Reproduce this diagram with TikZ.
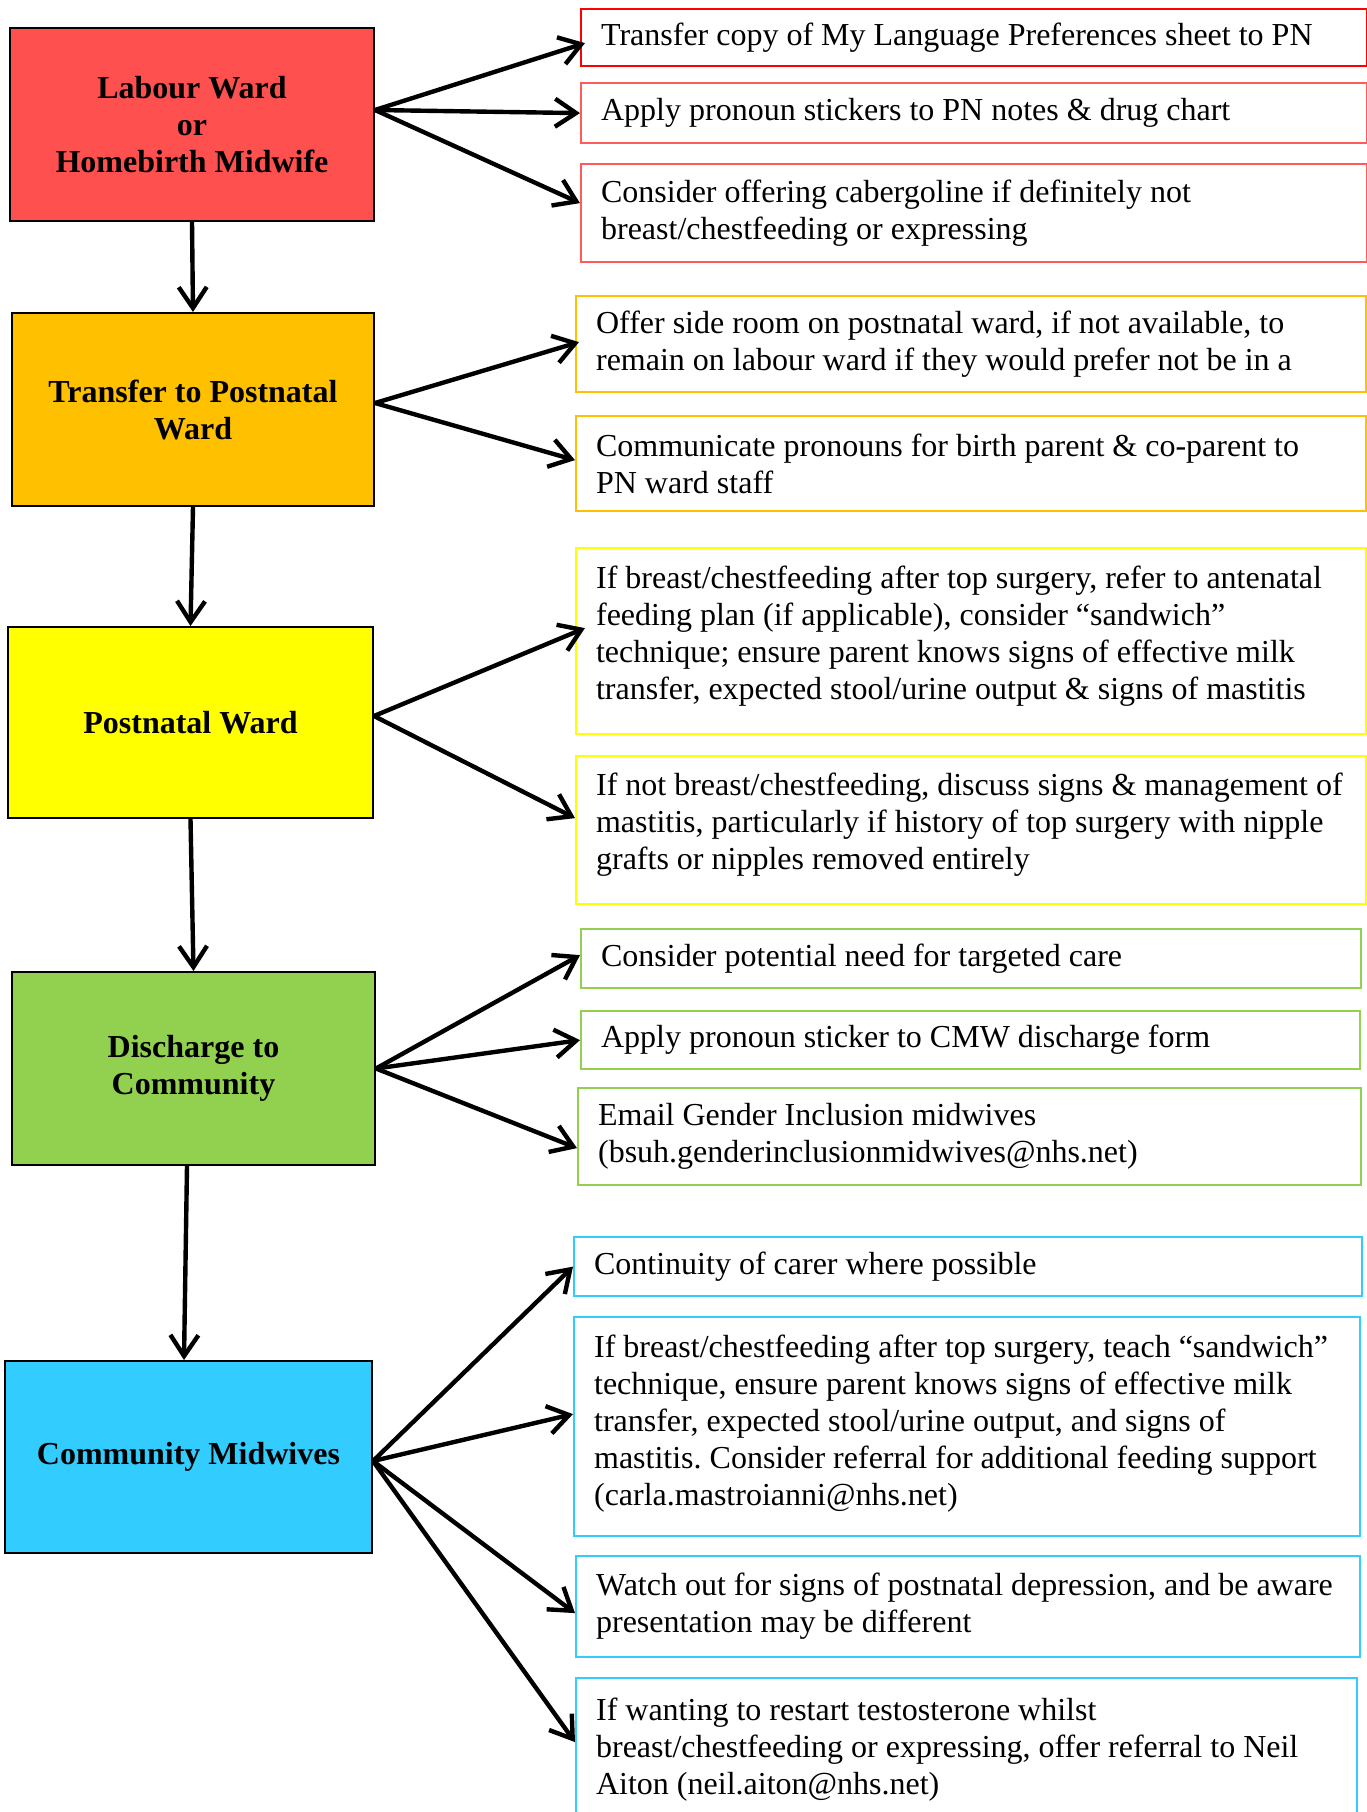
\documentclass[tikz,border=0pt]{standalone}
\usepackage{fontspec}
\setmainfont{Liberation Serif}
\usetikzlibrary{arrows.meta}
\definecolor{cRedFill}{HTML}{FF5050}
\definecolor{cRedLine}{HTML}{FF0000}
\definecolor{cRedSoft}{HTML}{FF5B5B}
\definecolor{cOrange}{HTML}{FFC000}
\definecolor{cYellow}{HTML}{FFFF00}
\definecolor{cGreen}{HTML}{92D050}
\definecolor{cBlue}{HTML}{33CCFF}
\begin{document}
\begin{tikzpicture}[x=0.5pt,y=-0.5pt,
  stage/.style={draw=black, line width=1pt, align=center, inner sep=0pt,
    font=\bfseries\fontsize{16pt}{18.5pt}\selectfont},
  info/.style={draw=#1, line width=1.1pt, align=flush left, anchor=north west,
    inner xsep=10pt, inner ysep=2pt, font=\fontsize{16pt}{18.5pt}\selectfont},
  arr/.style={line width=2.2pt, -{Straight Barb[length=10.5pt,width=14pt]}}]
\useasboundingbox (0,0) rectangle (1367,1812);
\clip (0,0) rectangle (1367,1812);

% stage boxes
\node[stage, fill=cRedFill, minimum width=182pt, minimum height=96.5pt] (L1) at (192,124.5) {Labour Ward\\ or\\ Homebirth Midwife};
\node[stage, fill=cOrange, minimum width=181pt, minimum height=96.5pt] (L2) at (193,409.5) {Transfer to Postnatal\\ Ward};
\node[stage, fill=cYellow, minimum width=182.5pt, minimum height=95.5pt] (L3) at (190.5,722.5) {Postnatal Ward};
\node[stage, fill=cGreen, minimum width=181.5pt, minimum height=96.5pt] (L4) at (193.5,1068.5) {Discharge to\\ Community};
\node[stage, fill=cBlue, minimum width=183.5pt, minimum height=96pt] (L5) at (188.5,1457) {Community Midwives};

% information boxes
\node[info=cRedLine, text width=373pt, minimum height=28.5pt] (B1) at (580,8) {Transfer copy of My Language Preferences sheet to PN};
\node[info=cRedSoft, text width=373pt, minimum height=30pt] (B2) at (580,82) {Apply pronoun stickers to PN notes \& drug chart};
\node[info=cRedSoft, text width=373pt, minimum height=49pt] (B3) at (580,163) {Consider offering cabergoline if definitely not\\ breast/chestfeeding or expressing};

\node[info=cOrange, text width=375pt, minimum height=48pt] (B4) at (575,295) {Offer side room on postnatal ward, if not available, to\\ remain on labour ward if they would prefer not be in a};
\node[info=cOrange, text width=375pt, minimum height=47.5pt] (B5) at (575,415) {Communicate pronouns for birth parent \& co-parent to\\ PN ward staff};

\node[info=cYellow, text width=375pt, minimum height=93pt, text height=6pt] (B6) at (575,547) {If breast/chestfeeding after top surgery, refer to antenatal\\ feeding plan (if applicable), consider “sandwich”\\ technique; ensure parent knows signs of effective milk\\ transfer, expected stool/urine output \& signs of mastitis};
\node[info=cYellow, text width=375pt, minimum height=74pt, text height=6pt] (B7) at (575,755) {If not breast/chestfeeding, discuss signs \& management of\\ mastitis, particularly if history of top surgery with nipple\\ grafts or nipples removed entirely};

\node[info=cGreen, text width=370pt, minimum height=29.5pt] (B8) at (580,928) {Consider potential need for targeted care};
\node[info=cGreen, text width=369.5pt, minimum height=29pt] (B9) at (580,1010) {Apply pronoun sticker to CMW discharge form};
\node[info=cGreen, text width=371.5pt, minimum height=48.5pt] (B10) at (577,1087) {Email Gender Inclusion midwives\\ (bsuh.genderinclusionmidwives@nhs.net)};

\node[info=cBlue, text width=374pt, minimum height=29.5pt] (B11) at (573,1236) {Continuity of carer where possible};
\node[info=cBlue, text width=373pt, minimum height=109.5pt, text height=8pt] (B12) at (573,1316) {If breast/chestfeeding after top surgery, teach “sandwich”\\ technique, ensure parent knows signs of effective milk\\ transfer, expected stool/urine output, and signs of\\ mastitis.\ Consider referral for additional feeding support\\ (carla.mastroianni@nhs.net)};
\node[info=cBlue, text width=372pt, minimum height=50.5pt] (B13) at (575,1555) {Watch out for signs of postnatal depression, and be aware\\ presentation may be different};
\node[info=cBlue, text width=370.5pt, minimum height=72pt] (B14) at (575,1677) {If wanting to restart testosterone whilst\\ breast/chestfeeding or expressing, offer referral to Neil\\ Aiton (neil.aiton@nhs.net)};

% vertical flow
\draw[arr] (L1.south) -- (L2.north);
\draw[arr] (L2.south) -- (L3.north);
\draw[arr] (L3.south) -- (L4.north);
\draw[arr] ([xshift=-3.25pt]L4.south) -- ([xshift=-2.25pt]L5.north);

% fans
\coordinate (o1) at ([yshift=7.25pt]L1.east);
\draw[arr] (o1) -- ([xshift=2.5pt,yshift=-2.75pt]B1.west);
\draw[arr] (o1) -- (B2.west);
\draw[arr] (o1) -- ([yshift=5pt]B3.west);

\coordinate (o2) at ([yshift=3.25pt]L2.east);
\draw[arr] (o2) -- ([xshift=2pt,yshift=1pt]B4.west);
\draw[arr] (o2) -- ([yshift=1.75pt]B5.west);

\coordinate (o3) at ([yshift=3.25pt]L3.east);
\draw[arr] (o3) -- ([xshift=5pt,yshift=6.5pt]B6.west);
\draw[arr] (o3) -- ([yshift=6pt]B7.west);

\draw[arr] (L4.east) -- ([yshift=1.75pt]B8.west);
\draw[arr] (L4.east) -- (B9.west);
\draw[arr] (L4.east) -- ([yshift=-5.75pt]B10.west);

\coordinate (o5) at ([yshift=-2pt]L5.east);
\draw[arr] (o5) -- (B11.west);
\draw[arr] (o5) -- ([yshift=6.25pt]B12.west);
\draw[arr] (o5) -- ([yshift=-3.25pt]B13.west);
\draw[arr] (o5) -- ([yshift=4pt]B14.west);
\end{tikzpicture}
\end{document}
